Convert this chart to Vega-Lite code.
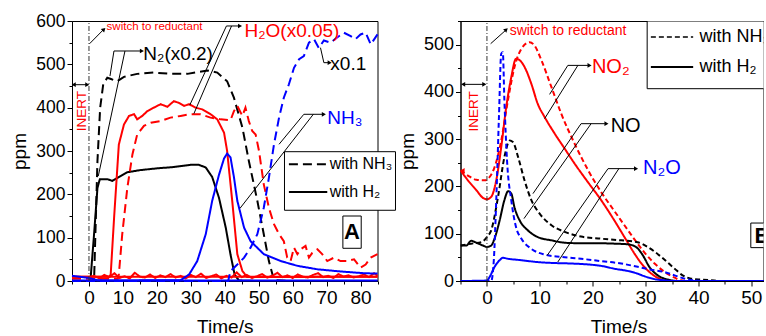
{
 "$schema": "https://vega.github.io/schema/vega-lite/v6.json",
 "padding": {"left": 10, "top": 11, "right": 0, "bottom": 0},
 "bounds": "flush",
 "spacing": 82.5,
 "resolve": {"scale": {"color": "independent", "strokeDash": "independent"}},
 "config": {
  "font": "Liberation Sans",
  "view": {"stroke": "black", "strokeWidth": 1},
  "axis": {"labelFont": "Liberation Sans", "titleFont": "Liberation Sans", "labelColor": "black", "titleColor": "black", "domainColor": "black", "tickColor": "black", "grid": false, "labelFlush": false, "labelOverlap": false, "titleFontWeight": "normal", "labelPadding": 2}
 },
 "datasets": {
  "A": [
   {"s":"N2 NH3","t":-5,"v":0},{"s":"N2 NH3","t":1.5,"v":0},{"s":"N2 NH3","t":2.5,"v":277},{"s":"N2 NH3","t":3.3,"v":400},{"s":"N2 NH3","t":4.2,"v":454},{"s":"N2 NH3","t":5.4,"v":469},{"s":"N2 NH3","t":6.5,"v":466},{"s":"N2 NH3","t":8.3,"v":461},{"s":"N2 NH3","t":10.3,"v":471},{"s":"N2 NH3","t":14.2,"v":478},{"s":"N2 NH3","t":19.1,"v":481},{"s":"N2 NH3","t":24,"v":478},{"s":"N2 NH3","t":29,"v":478},{"s":"N2 NH3","t":32,"v":482},{"s":"N2 NH3","t":34.9,"v":486},{"s":"N2 NH3","t":37.8,"v":481},{"s":"N2 NH3","t":40.7,"v":461},{"s":"N2 NH3","t":42.7,"v":423},{"s":"N2 NH3","t":45.2,"v":354},{"s":"N2 NH3","t":47.1,"v":277},{"s":"N2 NH3","t":49.6,"v":185},{"s":"N2 NH3","t":51.5,"v":108},{"s":"N2 NH3","t":53,"v":46},{"s":"N2 NH3","t":54.5,"v":2},{"s":"N2 NH3","t":60,"v":0},{"s":"N2 NH3","t":85,"v":0},
   {"s":"N2 H2","t":-5,"v":0},{"s":"N2 H2","t":0,"v":0},{"s":"N2 H2","t":0.5,"v":8},{"s":"N2 H2","t":1.5,"v":108},{"s":"N2 H2","t":2.5,"v":215},{"s":"N2 H2","t":3.2,"v":235},{"s":"N2 H2","t":5.4,"v":235},{"s":"N2 H2","t":6.9,"v":231},{"s":"N2 H2","t":9.3,"v":242},{"s":"N2 H2","t":11.3,"v":251},{"s":"N2 H2","t":15.2,"v":256},{"s":"N2 H2","t":20.1,"v":260},{"s":"N2 H2","t":25,"v":263},{"s":"N2 H2","t":29.9,"v":268},{"s":"N2 H2","t":32.4,"v":268},{"s":"N2 H2","t":34.4,"v":262},{"s":"N2 H2","t":36.3,"v":240},{"s":"N2 H2","t":38.3,"v":192},{"s":"N2 H2","t":40.3,"v":123},{"s":"N2 H2","t":41.7,"v":61},{"s":"N2 H2","t":42.9,"v":15},{"s":"N2 H2","t":44.2,"v":1},{"s":"N2 H2","t":50,"v":0},{"s":"N2 H2","t":85,"v":0},
   {"s":"H2O base","t":-5,"v":10},{"s":"H2O base","t":85,"v":10},
   {"s":"H2O noise","t":0,"v":8},{"s":"H2O noise","t":1.5,"v":12},{"s":"H2O noise","t":3,"v":6},{"s":"H2O noise","t":4.5,"v":14},{"s":"H2O noise","t":6,"v":9},{"s":"H2O noise","t":7.5,"v":18},{"s":"H2O noise","t":9,"v":7},{"s":"H2O noise","t":10.5,"v":11},{"s":"H2O noise","t":12,"v":6},{"s":"H2O noise","t":13.5,"v":19},{"s":"H2O noise","t":15,"v":10},{"s":"H2O noise","t":16.5,"v":8},{"s":"H2O noise","t":18,"v":15},{"s":"H2O noise","t":19.5,"v":7},{"s":"H2O noise","t":21,"v":13},{"s":"H2O noise","t":22.5,"v":9},{"s":"H2O noise","t":24,"v":16},{"s":"H2O noise","t":25.5,"v":8},{"s":"H2O noise","t":27,"v":12},{"s":"H2O noise","t":28.5,"v":6},{"s":"H2O noise","t":30,"v":14},{"s":"H2O noise","t":31.5,"v":9},{"s":"H2O noise","t":33,"v":17},{"s":"H2O noise","t":34.5,"v":7},{"s":"H2O noise","t":36,"v":11},{"s":"H2O noise","t":37.5,"v":15},{"s":"H2O noise","t":39,"v":6},{"s":"H2O noise","t":40.5,"v":12},{"s":"H2O noise","t":42,"v":8},{"s":"H2O noise","t":43.5,"v":20},{"s":"H2O noise","t":45,"v":9},{"s":"H2O noise","t":46.5,"v":14},{"s":"H2O noise","t":48,"v":7},{"s":"H2O noise","t":49.5,"v":11},{"s":"H2O noise","t":51,"v":16},{"s":"H2O noise","t":52.5,"v":8},{"s":"H2O noise","t":54,"v":12},{"s":"H2O noise","t":55.5,"v":19},{"s":"H2O noise","t":57,"v":9},{"s":"H2O noise","t":58.5,"v":13},{"s":"H2O noise","t":60,"v":7},{"s":"H2O noise","t":61.5,"v":15},{"s":"H2O noise","t":63,"v":10},{"s":"H2O noise","t":64.5,"v":8},{"s":"H2O noise","t":66,"v":14},{"s":"H2O noise","t":67.5,"v":18},{"s":"H2O noise","t":69,"v":9},{"s":"H2O noise","t":70.5,"v":12},{"s":"H2O noise","t":72,"v":7},{"s":"H2O noise","t":73.5,"v":16},{"s":"H2O noise","t":75,"v":10},{"s":"H2O noise","t":76.5,"v":13},{"s":"H2O noise","t":78,"v":8},{"s":"H2O noise","t":79.5,"v":11},{"s":"H2O noise","t":81,"v":15},{"s":"H2O noise","t":82.5,"v":9},{"s":"H2O noise","t":84,"v":18},{"s":"H2O noise","t":85,"v":12},
   {"s":"H2O H2","t":-5,"v":10},{"s":"H2O H2","t":6,"v":10},{"s":"H2O H2","t":6.4,"v":15},{"s":"H2O H2","t":7.4,"v":146},{"s":"H2O H2","t":8.8,"v":315},{"s":"H2O H2","t":10.3,"v":361},{"s":"H2O H2","t":11.8,"v":381},{"s":"H2O H2","t":13.3,"v":385},{"s":"H2O H2","t":14.2,"v":373},{"s":"H2O H2","t":15.7,"v":381},{"s":"H2O H2","t":17.2,"v":392},{"s":"H2O H2","t":19.1,"v":400},{"s":"H2O H2","t":21.1,"v":408},{"s":"H2O H2","t":23.1,"v":402},{"s":"H2O H2","t":25,"v":415},{"s":"H2O H2","t":26.5,"v":411},{"s":"H2O H2","t":28,"v":404},{"s":"H2O H2","t":29.5,"v":408},{"s":"H2O H2","t":31.4,"v":400},{"s":"H2O H2","t":33.4,"v":396},{"s":"H2O H2","t":35.8,"v":385},{"s":"H2O H2","t":37.8,"v":373},{"s":"H2O H2","t":39.8,"v":342},{"s":"H2O H2","t":40.7,"v":300},{"s":"H2O H2","t":42.2,"v":185},{"s":"H2O H2","t":43.7,"v":62},{"s":"H2O H2","t":45.2,"v":23},{"s":"H2O H2","t":46.6,"v":9},{"s":"H2O H2","t":85,"v":10},
   {"s":"H2O NH3","t":-5,"v":5},{"s":"H2O NH3","t":8.5,"v":5},{"s":"H2O NH3","t":8.8,"v":15},{"s":"H2O NH3","t":9.8,"v":108},{"s":"H2O NH3","t":11.3,"v":215},{"s":"H2O NH3","t":12.8,"v":292},{"s":"H2O NH3","t":14.2,"v":338},{"s":"H2O NH3","t":16.2,"v":358},{"s":"H2O NH3","t":18.2,"v":365},{"s":"H2O NH3","t":21.1,"v":369},{"s":"H2O NH3","t":24,"v":377},{"s":"H2O NH3","t":27,"v":381},{"s":"H2O NH3","t":29.9,"v":385},{"s":"H2O NH3","t":32.9,"v":385},{"s":"H2O NH3","t":35.8,"v":377},{"s":"H2O NH3","t":38.8,"v":373},{"s":"H2O NH3","t":41.7,"v":371},{"s":"H2O NH3","t":42.7,"v":392},{"s":"H2O NH3","t":43.7,"v":404},{"s":"H2O NH3","t":45.2,"v":381},{"s":"H2O NH3","t":46.1,"v":400},{"s":"H2O NH3","t":47.1,"v":369},{"s":"H2O NH3","t":48.1,"v":346},{"s":"H2O NH3","t":49.1,"v":338},{"s":"H2O NH3","t":50.1,"v":300},{"s":"H2O NH3","t":51.5,"v":223},{"s":"H2O NH3","t":53,"v":169},{"s":"H2O NH3","t":54.5,"v":131},{"s":"H2O NH3","t":56,"v":108},{"s":"H2O NH3","t":57.4,"v":92},{"s":"H2O NH3","t":58.4,"v":54},{"s":"H2O NH3","t":59.4,"v":46},{"s":"H2O NH3","t":60.4,"v":77},{"s":"H2O NH3","t":61.4,"v":62},{"s":"H2O NH3","t":62.3,"v":73},{"s":"H2O NH3","t":63.8,"v":81},{"s":"H2O NH3","t":64.8,"v":54},{"s":"H2O NH3","t":65.8,"v":65},{"s":"H2O NH3","t":67.3,"v":73},{"s":"H2O NH3","t":68.7,"v":62},{"s":"H2O NH3","t":70.2,"v":46},{"s":"H2O NH3","t":72.2,"v":54},{"s":"H2O NH3","t":74.1,"v":46},{"s":"H2O NH3","t":76.1,"v":46},{"s":"H2O NH3","t":78.1,"v":50},{"s":"H2O NH3","t":80,"v":31},{"s":"H2O NH3","t":81.5,"v":38},{"s":"H2O NH3","t":83,"v":54},{"s":"H2O NH3","t":85,"v":62},
   {"s":"NH3 base","t":-5,"v":1},{"s":"NH3 base","t":85,"v":1},
   {"s":"NH3 H2","t":-5,"v":12},{"s":"NH3 H2","t":-2,"v":9},{"s":"NH3 H2","t":0,"v":7},{"s":"NH3 H2","t":2.5,"v":2},{"s":"NH3 H2","t":5,"v":1},{"s":"NH3 H2","t":27,"v":2},{"s":"NH3 H2","t":29.5,"v":15},{"s":"NH3 H2","t":31.9,"v":46},{"s":"NH3 H2","t":34.4,"v":108},{"s":"NH3 H2","t":36.3,"v":185},{"s":"NH3 H2","t":38.3,"v":245},{"s":"NH3 H2","t":39.8,"v":283},{"s":"NH3 H2","t":40.7,"v":294},{"s":"NH3 H2","t":41.7,"v":285},{"s":"NH3 H2","t":42.7,"v":240},{"s":"NH3 H2","t":43.7,"v":185},{"s":"NH3 H2","t":45.7,"v":123},{"s":"NH3 H2","t":47.6,"v":92},{"s":"NH3 H2","t":51.5,"v":62},{"s":"NH3 H2","t":56.5,"v":46},{"s":"NH3 H2","t":61.4,"v":35},{"s":"NH3 H2","t":67.3,"v":27},{"s":"NH3 H2","t":74.1,"v":22},{"s":"NH3 H2","t":81,"v":18},{"s":"NH3 H2","t":85,"v":17},
   {"s":"NH3 NH3","t":-5,"v":0},{"s":"NH3 NH3","t":41,"v":0},{"s":"NH3 NH3","t":41.7,"v":23},{"s":"NH3 NH3","t":43.7,"v":38},{"s":"NH3 NH3","t":45.7,"v":54},{"s":"NH3 NH3","t":47.6,"v":77},{"s":"NH3 NH3","t":49.6,"v":108},{"s":"NH3 NH3","t":51.5,"v":169},{"s":"NH3 NH3","t":53,"v":238},{"s":"NH3 NH3","t":54.5,"v":315},{"s":"NH3 NH3","t":56,"v":377},{"s":"NH3 NH3","t":57.4,"v":423},{"s":"NH3 NH3","t":58.9,"v":454},{"s":"NH3 NH3","t":60.4,"v":492},{"s":"NH3 NH3","t":61.9,"v":512},{"s":"NH3 NH3","t":63.3,"v":519},{"s":"NH3 NH3","t":64.8,"v":550},{"s":"NH3 NH3","t":66.3,"v":558},{"s":"NH3 NH3","t":67.7,"v":538},{"s":"NH3 NH3","t":69.2,"v":555},{"s":"NH3 NH3","t":71.2,"v":550},{"s":"NH3 NH3","t":73.1,"v":562},{"s":"NH3 NH3","t":75.1,"v":573},{"s":"NH3 NH3","t":77.1,"v":565},{"s":"NH3 NH3","t":78.5,"v":558},{"s":"NH3 NH3","t":80,"v":569},{"s":"NH3 NH3","t":81.5,"v":573},{"s":"NH3 NH3","t":83,"v":546},{"s":"NH3 NH3","t":85,"v":569}
  ],
  "B": [
   {"s":"NO2 H2","t":-5,"v":234},{"s":"NO2 H2","t":-3.6,"v":213},{"s":"NO2 H2","t":-2,"v":192},{"s":"NO2 H2","t":-0.76,"v":176},{"s":"NO2 H2","t":0,"v":173},{"s":"NO2 H2","t":0.8,"v":178},{"s":"NO2 H2","t":1.76,"v":213},{"s":"NO2 H2","t":2.7,"v":283},{"s":"NO2 H2","t":3.65,"v":368},{"s":"NO2 H2","t":4.6,"v":431},{"s":"NO2 H2","t":5.5,"v":470},{"s":"NO2 H2","t":6.2,"v":467},{"s":"NO2 H2","t":7.1,"v":453},{"s":"NO2 H2","t":8.4,"v":417},{"s":"NO2 H2","t":9.6,"v":375},{"s":"NO2 H2","t":10.9,"v":347},{"s":"NO2 H2","t":12.8,"v":312},{"s":"NO2 H2","t":14.7,"v":280},{"s":"NO2 H2","t":16.6,"v":248},{"s":"NO2 H2","t":19.1,"v":209},{"s":"NO2 H2","t":21.6,"v":171},{"s":"NO2 H2","t":24.1,"v":128},{"s":"NO2 H2","t":26,"v":93},{"s":"NO2 H2","t":27.9,"v":58},{"s":"NO2 H2","t":29.5,"v":33},{"s":"NO2 H2","t":31.1,"v":15.5},{"s":"NO2 H2","t":32.6,"v":5},{"s":"NO2 H2","t":34.2,"v":0},{"s":"NO2 H2","t":55,"v":0},
   {"s":"NO2 NH3","t":-5,"v":234},{"s":"NO2 NH3","t":-3.6,"v":223},{"s":"NO2 NH3","t":-2,"v":214},{"s":"NO2 NH3","t":-0.4,"v":213},{"s":"NO2 NH3","t":0.5,"v":220},{"s":"NO2 NH3","t":1.45,"v":241},{"s":"NO2 NH3","t":2.7,"v":297},{"s":"NO2 NH3","t":3.97,"v":382},{"s":"NO2 NH3","t":5.2,"v":452},{"s":"NO2 NH3","t":6.5,"v":491},{"s":"NO2 NH3","t":8.07,"v":505},{"s":"NO2 NH3","t":9,"v":498},{"s":"NO2 NH3","t":10.3,"v":467},{"s":"NO2 NH3","t":12.2,"v":410},{"s":"NO2 NH3","t":14.05,"v":354},{"s":"NO2 NH3","t":16.6,"v":290},{"s":"NO2 NH3","t":19.1,"v":235},{"s":"NO2 NH3","t":21.6,"v":188},{"s":"NO2 NH3","t":24.1,"v":148},{"s":"NO2 NH3","t":26,"v":118},{"s":"NO2 NH3","t":27.9,"v":88},{"s":"NO2 NH3","t":29.8,"v":60},{"s":"NO2 NH3","t":31.7,"v":37},{"s":"NO2 NH3","t":33.6,"v":19},{"s":"NO2 NH3","t":35.5,"v":7},{"s":"NO2 NH3","t":36.7,"v":1.4},{"s":"NO2 NH3","t":38,"v":0},{"s":"NO2 NH3","t":55,"v":0},
   {"s":"NO H2","t":-5,"v":75},{"s":"NO H2","t":-3.9,"v":75},{"s":"NO H2","t":-3,"v":85},{"s":"NO H2","t":-2,"v":81},{"s":"NO H2","t":-0.76,"v":75},{"s":"NO H2","t":0,"v":72},{"s":"NO H2","t":0.8,"v":75},{"s":"NO H2","t":1.45,"v":90},{"s":"NO H2","t":2.4,"v":128},{"s":"NO H2","t":3.3,"v":171},{"s":"NO H2","t":4,"v":190},{"s":"NO H2","t":4.6,"v":185},{"s":"NO H2","t":5.2,"v":156},{"s":"NO H2","t":6.2,"v":128},{"s":"NO H2","t":7.75,"v":107},{"s":"NO H2","t":9.6,"v":93},{"s":"NO H2","t":12.2,"v":86},{"s":"NO H2","t":14.7,"v":81},{"s":"NO H2","t":17.2,"v":80},{"s":"NO H2","t":20.4,"v":80},{"s":"NO H2","t":24.1,"v":79},{"s":"NO H2","t":26.7,"v":77.5},{"s":"NO H2","t":28.2,"v":72},{"s":"NO H2","t":29.5,"v":54},{"s":"NO H2","t":30.7,"v":30},{"s":"NO H2","t":32.3,"v":12},{"s":"NO H2","t":34.2,"v":3},{"s":"NO H2","t":36.1,"v":0},{"s":"NO H2","t":55,"v":0},
   {"s":"NO NH3","t":-5,"v":75},{"s":"NO NH3","t":-3,"v":79},{"s":"NO NH3","t":-1.07,"v":82},{"s":"NO NH3","t":0,"v":93},{"s":"NO NH3","t":0.8,"v":107},{"s":"NO NH3","t":2.1,"v":178},{"s":"NO NH3","t":3.3,"v":262},{"s":"NO NH3","t":4.3,"v":297},{"s":"NO NH3","t":4.9,"v":294},{"s":"NO NH3","t":5.9,"v":262},{"s":"NO NH3","t":7.1,"v":213},{"s":"NO NH3","t":8.4,"v":171},{"s":"NO NH3","t":10,"v":142},{"s":"NO NH3","t":12.2,"v":118},{"s":"NO NH3","t":14.7,"v":104},{"s":"NO NH3","t":17.8,"v":94},{"s":"NO NH3","t":21.6,"v":89.5},{"s":"NO NH3","t":25.4,"v":86},{"s":"NO NH3","t":28.5,"v":82},{"s":"NO NH3","t":30.4,"v":72},{"s":"NO NH3","t":32.96,"v":51},{"s":"NO NH3","t":35.5,"v":26},{"s":"NO NH3","t":37,"v":12},{"s":"NO NH3","t":38.6,"v":5},{"s":"NO NH3","t":40.5,"v":3},{"s":"NO NH3","t":42.4,"v":1.4},{"s":"NO NH3","t":44.3,"v":0},{"s":"NO NH3","t":55,"v":0},
   {"s":"N2O H2","t":-5,"v":0},{"s":"N2O H2","t":0,"v":1},{"s":"N2O H2","t":0.5,"v":8.5},{"s":"N2O H2","t":1.45,"v":30},{"s":"N2O H2","t":2.4,"v":44},{"s":"N2O H2","t":3,"v":49},{"s":"N2O H2","t":4,"v":47},{"s":"N2O H2","t":6.5,"v":44},{"s":"N2O H2","t":9.6,"v":40},{"s":"N2O H2","t":12.8,"v":38},{"s":"N2O H2","t":15.9,"v":37},{"s":"N2O H2","t":19.1,"v":35},{"s":"N2O H2","t":21.6,"v":32},{"s":"N2O H2","t":24.1,"v":26},{"s":"N2O H2","t":26.7,"v":21},{"s":"N2O H2","t":28.5,"v":15.5},{"s":"N2O H2","t":29.8,"v":10},{"s":"N2O H2","t":31.7,"v":4},{"s":"N2O H2","t":33.6,"v":1.4},{"s":"N2O H2","t":35.5,"v":0},{"s":"N2O H2","t":55,"v":0},
   {"s":"N2O NH3","t":-5,"v":0},{"s":"N2O NH3","t":0.8,"v":0},{"s":"N2O NH3","t":1.3,"v":44},{"s":"N2O NH3","t":1.76,"v":171},{"s":"N2O NH3","t":2.27,"v":347},{"s":"N2O NH3","t":2.7,"v":481},{"s":"N2O NH3","t":3,"v":484},{"s":"N2O NH3","t":3.3,"v":382},{"s":"N2O NH3","t":3.8,"v":255},{"s":"N2O NH3","t":4.6,"v":171},{"s":"N2O NH3","t":5.5,"v":114},{"s":"N2O NH3","t":6.5,"v":90},{"s":"N2O NH3","t":8.4,"v":68},{"s":"N2O NH3","t":10.9,"v":56},{"s":"N2O NH3","t":14.05,"v":51},{"s":"N2O NH3","t":17.8,"v":47},{"s":"N2O NH3","t":21.6,"v":42},{"s":"N2O NH3","t":25.4,"v":37},{"s":"N2O NH3","t":28.5,"v":30},{"s":"N2O NH3","t":31,"v":24},{"s":"N2O NH3","t":33.6,"v":19},{"s":"N2O NH3","t":35.5,"v":12},{"s":"N2O NH3","t":37.4,"v":5},{"s":"N2O NH3","t":39.3,"v":1.4},{"s":"N2O NH3","t":41,"v":0},{"s":"N2O NH3","t":55,"v":0}
  ]
 },
 "hconcat": [
  {
   "width": 305.5, "height": 260,
   "layer": [
    {
     "data": {"name": "A"},
     "mark": {"type": "line", "strokeWidth": 2},
     "encoding": {
      "x": {"field": "t", "type": "quantitative", "scale": {"domain": [-5, 85], "nice": false, "zero": false},
            "axis": {"title": "Time/s", "format": "d", "values": [-5,0,5,10,15,20,25,30,35,40,45,50,55,60,65,70,75,80,85], "tickCount": 100, "labelExpr": "datum.value % 10 === 0 ? datum.label : ''", "labelOverlap": false, "labelFlush": false, "tickSize": {"condition": {"test": "datum.value % 10 === 0", "value": 5}, "value": 3}, "labelFontSize": 19, "titleFontSize": 19, "titlePadding": 10}},
      "y": {"field": "v", "type": "quantitative", "scale": {"domain": [0, 600], "nice": false},
            "axis": {"title": "ppm", "format": "d", "values": [0,50,100,150,200,250,300,350,400,450,500,550,600], "tickCount": 100, "labelExpr": "datum.value % 100 === 0 ? datum.label : ''", "labelOverlap": false, "tickSize": {"condition": {"test": "datum.value % 100 === 0", "value": 5}, "value": 3}, "labelFontSize": 17.5, "titleFontSize": 19, "titlePadding": 6}},
      "color": {"field": "s", "type": "nominal", "legend": null, "scale": {"domain": ["N2 NH3","N2 H2","H2O base","H2O noise","H2O H2","H2O NH3","NH3 base","NH3 H2","NH3 NH3"], "range": ["black","black","#ff0000","#ff0000","#ff0000","#ff0000","#0000ff","#0000ff","#0000ff"]}},
      "strokeDash": {"field": "s", "type": "nominal", "legend": null, "scale": {"domain": ["N2 NH3","N2 H2","H2O base","H2O noise","H2O H2","H2O NH3","NH3 base","NH3 H2","NH3 NH3"], "range": [[9,5],[1,0],[1,0],[1,0],[1,0],[9,5],[1,0],[1,0],[9,5]]}}
     }
    },
    {
     "data": {"values": [{"x": 0, "y": 0, "y2": 600}]},
     "mark": {"type": "rule", "color": "#333333", "strokeWidth": 1, "strokeDash": [5,2,1,2]},
     "encoding": {"x": {"field": "x", "type": "quantitative"}, "y": {"field": "y", "type": "quantitative"}, "y2": {"field": "y2"}}
    },
    {
     "data": {"values": [
      {"x":7.36,"y":530.8,"x2":15.3,"y2":530.8},{"x":7.36,"y":530.8,"x2":6.19,"y2":473},{"x":10.6,"y":530.8,"x2":2.74,"y2":242},
      {"x":40.5,"y":588.5,"x2":44.2,"y2":588.5},{"x":40.5,"y":588.5,"x2":29.7,"y2":406},{"x":42,"y":588.5,"x2":30.9,"y2":386},
      {"x":63.3,"y":384.7,"x2":68.9,"y2":384.7},{"x":63.3,"y":384.7,"x2":56,"y2":315.5},{"x":66.1,"y":384.7,"x2":44.5,"y2":167.8},
      {"x":68.2,"y":538.4,"x2":69.2,"y2":503.8},{"x":69.2,"y":503.8,"x2":70.5,"y2":503.8},
      {"x":-4.6,"y":453,"x2":-0.4,"y2":453},
      {"x":0.18,"y":547.6,"x2":4.2,"y2":579.5}
     ]},
     "mark": {"type": "rule", "color": "black", "strokeWidth": 1},
     "encoding": {"x": {"field": "x", "type": "quantitative"}, "y": {"field": "y", "type": "quantitative"}, "x2": {"field": "x2"}, "y2": {"field": "y2"}}
    },
    {
     "data": {"values": [{"x":15.6,"y":530.8},{"x":44.5,"y":588.5},{"x":69.2,"y":384.7},{"x":70.9,"y":503.8},{"x":-0.5,"y":453}]},
     "mark": {"type": "point", "shape": "triangle-right", "filled": true, "color": "black", "size": 22, "opacity": 1},
     "encoding": {"x": {"field": "x", "type": "quantitative"}, "y": {"field": "y", "type": "quantitative"}}
    },
    {
     "data": {"values": [{"x":-4.5,"y":453}]},
     "mark": {"type": "point", "shape": "triangle-left", "filled": true, "color": "black", "size": 22, "opacity": 1},
     "encoding": {"x": {"field": "x", "type": "quantitative"}, "y": {"field": "y", "type": "quantitative"}}
    },
    {
     "data": {"values": [{"x":4.4,"y":580.8}]},
     "mark": {"type": "point", "shape": "triangle-up", "angle": 45, "filled": true, "color": "black", "size": 22, "opacity": 1},
     "encoding": {"x": {"field": "x", "type": "quantitative"}, "y": {"field": "y", "type": "quantitative"}}
    },
    {
     "data": {"values": [{"x":57.6,"x2":90.3,"y":163.2,"y2":298.4},{"x":74.8,"x2":80.2,"y":75.5,"y2":150}]},
     "mark": {"type": "rect", "fill": "white", "stroke": "black", "strokeWidth": 1},
     "encoding": {"x": {"field": "x", "type": "quantitative"}, "x2": {"field": "x2"}, "y": {"field": "y", "type": "quantitative"}, "y2": {"field": "y2"}}
    },
    {
     "data": {"values": [{"x":58.9,"x2":70.2,"y":269.3}]},
     "mark": {"type": "rule", "color": "black", "strokeWidth": 2, "strokeDash": [9,5]},
     "encoding": {"x": {"field": "x", "type": "quantitative"}, "x2": {"field": "x2"}, "y": {"field": "y", "type": "quantitative"}}
    },
    {
     "data": {"values": [{"x":58.9,"x2":70.2,"y":205.4}]},
     "mark": {"type": "rule", "color": "black", "strokeWidth": 2},
     "encoding": {"x": {"field": "x", "type": "quantitative"}, "x2": {"field": "x2"}, "y": {"field": "y", "type": "quantitative"}}
    },
    {
     "data": {"values": [{"x":70.9,"y":269.3,"label":"with NH₃"},{"x":70.9,"y":205.4,"label":"with H₂"}]},
     "mark": {"type": "text", "align": "left", "baseline": "middle", "fontSize": 16, "color": "black"},
     "encoding": {"x": {"field": "x", "type": "quantitative"}, "y": {"field": "y", "type": "quantitative"}, "text": {"field": "label"}}
    },
    {
     "data": {"values": [{"x":77.5,"y":112,"label":"A"}]},
     "mark": {"type": "text", "align": "center", "baseline": "middle", "fontSize": 22, "fontWeight": "bold", "color": "black"},
     "encoding": {"x": {"field": "x", "type": "quantitative"}, "y": {"field": "y", "type": "quantitative"}, "text": {"field": "label"}}
    },
    {
     "data": {"values": [{"x":16,"y":523,"label":"N₂(x0.2)"},{"x":71.1,"y":500,"label":"x0.1"}]},
     "mark": {"type": "text", "align": "left", "baseline": "middle", "fontSize": 19, "color": "black"},
     "encoding": {"x": {"field": "x", "type": "quantitative"}, "y": {"field": "y", "type": "quantitative"}, "text": {"field": "label"}}
    },
    {
     "data": {"values": [{"x":45.8,"y":578,"label":"H₂O(x0.05)"}]},
     "mark": {"type": "text", "align": "left", "baseline": "middle", "fontSize": 19, "color": "#ff0000"},
     "encoding": {"x": {"field": "x", "type": "quantitative"}, "y": {"field": "y", "type": "quantitative"}, "text": {"field": "label"}}
    },
    {
     "data": {"values": [{"x":70.2,"y":377,"label":"NH₃"}]},
     "mark": {"type": "text", "align": "left", "baseline": "middle", "fontSize": 19, "color": "#0000ff"},
     "encoding": {"x": {"field": "x", "type": "quantitative"}, "y": {"field": "y", "type": "quantitative"}, "text": {"field": "label"}}
    },
    {
     "data": {"values": [{"x":5.2,"y":587,"label":"switch to reductant"}]},
     "mark": {"type": "text", "align": "left", "baseline": "middle", "fontSize": 11.5, "color": "#ff0000"},
     "encoding": {"x": {"field": "x", "type": "quantitative"}, "y": {"field": "y", "type": "quantitative"}, "text": {"field": "label"}}
    },
    {
     "data": {"values": [{"x":-2,"y":392,"label":"INERT"}]},
     "mark": {"type": "text", "align": "center", "baseline": "middle", "fontSize": 13.5, "angle": 270, "color": "#ff0000"},
     "encoding": {"x": {"field": "x", "type": "quantitative"}, "y": {"field": "y", "type": "quantitative"}, "text": {"field": "label"}}
    }
   ]
  },
  {
   "width": 303, "height": 260,
   "layer": [
    {
     "data": {"name": "B"},
     "mark": {"type": "line", "strokeWidth": 2, "interpolate": "monotone", "clip": true},
     "encoding": {
      "x": {"field": "t", "type": "quantitative", "scale": {"domain": [-5, 52.3], "nice": false, "zero": false},
            "axis": {"title": "Time/s", "format": "d", "titleX": 158, "values": [-5,0,5,10,15,20,25,30,35,40,45,50], "tickCount": 100, "labelExpr": "datum.value % 10 === 0 ? datum.label : ''", "labelOverlap": false, "labelFlush": false, "tickSize": {"condition": {"test": "datum.value % 10 === 0", "value": 5}, "value": 3}, "labelFontSize": 19, "titleFontSize": 19, "titlePadding": 10}},
      "y": {"field": "v", "type": "quantitative", "scale": {"domain": [0, 550], "nice": false},
            "axis": {"title": "ppm", "format": "d", "values": [0,50,100,150,200,250,300,350,400,450,500,550], "tickCount": 100, "labelExpr": "datum.value % 100 === 0 ? datum.label : ''", "labelOverlap": false, "tickSize": {"condition": {"test": "datum.value % 100 === 0", "value": 5}, "value": 3}, "labelFontSize": 18, "titleFontSize": 19, "titlePadding": 6}},
      "color": {"field": "s", "type": "nominal", "legend": null, "scale": {"domain": ["NO2 H2","NO2 NH3","NO H2","NO NH3","N2O H2","N2O NH3"], "range": ["#ff0000","#ff0000","black","black","#0000ff","#0000ff"]}},
      "strokeDash": {"field": "s", "type": "nominal", "legend": null, "scale": {"domain": ["NO2 H2","NO2 NH3","NO H2","NO NH3","N2O H2","N2O NH3"], "range": [[1,0],[5,3],[1,0],[5,3],[1,0],[5,3]]}}
     }
    },
    {
     "data": {"values": [{"x": 0, "y": 0, "y2": 550}]},
     "mark": {"type": "rule", "color": "#333333", "strokeWidth": 1, "strokeDash": [5,2,1,2]},
     "encoding": {"x": {"field": "x", "type": "quantitative"}, "y": {"field": "y", "type": "quantitative"}, "y2": {"field": "y2"}}
    },
    {
     "data": {"values": [
      {"x":15.3,"y":456.1,"x2":19.1,"y2":456.1},{"x":15.3,"y":456.1,"x2":11.85,"y2":394.8},{"x":17.2,"y":456.1,"x2":10.9,"y2":343.4},
      {"x":17.8,"y":332.8,"x2":22.3,"y2":332.8},{"x":17.8,"y":332.8,"x2":8.7,"y2":184.8},{"x":19.7,"y":332.8,"x2":7.0,"y2":132},
      {"x":22.9,"y":237.7,"x2":27.9,"y2":237.7},{"x":22.9,"y":237.7,"x2":11.4,"y2":54.3},{"x":24.95,"y":237.7,"x2":13.4,"y2":40.2},
      {"x":-4.6,"y":416,"x2":-0.4,"y2":416},
      {"x":0.7,"y":502,"x2":3.5,"y2":530}
     ]},
     "mark": {"type": "rule", "color": "black", "strokeWidth": 1},
     "encoding": {"x": {"field": "x", "type": "quantitative"}, "y": {"field": "y", "type": "quantitative"}, "x2": {"field": "x2"}, "y2": {"field": "y2"}}
    },
    {
     "data": {"values": [{"x":19.4,"y":456.1},{"x":22.6,"y":332.8},{"x":28.2,"y":237.7},{"x":-0.5,"y":416}]},
     "mark": {"type": "point", "shape": "triangle-right", "filled": true, "color": "black", "size": 22, "opacity": 1},
     "encoding": {"x": {"field": "x", "type": "quantitative"}, "y": {"field": "y", "type": "quantitative"}}
    },
    {
     "data": {"values": [{"x":-4.5,"y":416}]},
     "mark": {"type": "point", "shape": "triangle-left", "filled": true, "color": "black", "size": 22, "opacity": 1},
     "encoding": {"x": {"field": "x", "type": "quantitative"}, "y": {"field": "y", "type": "quantitative"}}
    },
    {
     "data": {"values": [{"x":-4.6,"y":234}]},
     "mark": {"type": "point", "shape": "triangle-left", "filled": true, "color": "#ff0000", "size": 22, "opacity": 1},
     "encoding": {"x": {"field": "x", "type": "quantitative"}, "y": {"field": "y", "type": "quantitative"}}
    },
    {
     "data": {"values": [{"x":3.65,"y":531.6}]},
     "mark": {"type": "point", "shape": "triangle-up", "angle": 47, "filled": true, "color": "black", "size": 22, "opacity": 1},
     "encoding": {"x": {"field": "x", "type": "quantitative"}, "y": {"field": "y", "type": "quantitative"}}
    },
    {
     "data": {"values": [{"x":30.3,"x2":56,"y":406.8,"y2":550},{"x":49.9,"x2":56,"y":70.6,"y2":122.6}]},
     "mark": {"type": "rect", "fill": "white", "stroke": "black", "strokeWidth": 1, "clip": true},
     "encoding": {"x": {"field": "x", "type": "quantitative"}, "x2": {"field": "x2"}, "y": {"field": "y", "type": "quantitative"}, "y2": {"field": "y2"}}
    },
    {
     "data": {"values": [{"x":31,"x2":39,"y":516}]},
     "mark": {"type": "rule", "color": "black", "strokeWidth": 1.5, "strokeDash": [5,3]},
     "encoding": {"x": {"field": "x", "type": "quantitative"}, "x2": {"field": "x2"}, "y": {"field": "y", "type": "quantitative"}}
    },
    {
     "data": {"values": [{"x":31,"x2":39,"y":452.5}]},
     "mark": {"type": "rule", "color": "black", "strokeWidth": 2},
     "encoding": {"x": {"field": "x", "type": "quantitative"}, "x2": {"field": "x2"}, "y": {"field": "y", "type": "quantitative"}}
    },
    {
     "data": {"values": [{"x":40.2,"y":516,"label":"with NH₃"},{"x":40.2,"y":452.5,"label":"with H₂"}]},
     "mark": {"type": "text", "align": "left", "baseline": "middle", "fontSize": 18, "color": "black", "clip": true},
     "encoding": {"x": {"field": "x", "type": "quantitative"}, "y": {"field": "y", "type": "quantitative"}, "text": {"field": "label"}}
    },
    {
     "data": {"values": [{"x":50.6,"y":96,"label":"B"}]},
     "mark": {"type": "text", "align": "left", "baseline": "middle", "fontSize": 22, "fontWeight": "bold", "color": "black", "clip": true},
     "encoding": {"x": {"field": "x", "type": "quantitative"}, "y": {"field": "y", "type": "quantitative"}, "text": {"field": "label"}}
    },
    {
     "data": {"values": [{"x":19.85,"y":452,"label":"NO₂"}]},
     "mark": {"type": "text", "align": "left", "baseline": "middle", "fontSize": 20, "color": "#ff0000"},
     "encoding": {"x": {"field": "x", "type": "quantitative"}, "y": {"field": "y", "type": "quantitative"}, "text": {"field": "label"}}
    },
    {
     "data": {"values": [{"x":23.4,"y":327,"label":"NO"}]},
     "mark": {"type": "text", "align": "left", "baseline": "middle", "fontSize": 20, "color": "black"},
     "encoding": {"x": {"field": "x", "type": "quantitative"}, "y": {"field": "y", "type": "quantitative"}, "text": {"field": "label"}}
    },
    {
     "data": {"values": [{"x":29.5,"y":239.6,"label":"N₂O"}]},
     "mark": {"type": "text", "align": "left", "baseline": "middle", "fontSize": 20, "color": "#0000ff"},
     "encoding": {"x": {"field": "x", "type": "quantitative"}, "y": {"field": "y", "type": "quantitative"}, "text": {"field": "label"}}
    },
    {
     "data": {"values": [{"x":4.29,"y":528.7,"label":"switch to reductant"}]},
     "mark": {"type": "text", "align": "left", "baseline": "middle", "fontSize": 14, "color": "#ff0000"},
     "encoding": {"x": {"field": "x", "type": "quantitative"}, "y": {"field": "y", "type": "quantitative"}, "text": {"field": "label"}}
    },
    {
     "data": {"values": [{"x":-2.5,"y":359,"label":"INERT"}]},
     "mark": {"type": "text", "align": "center", "baseline": "middle", "fontSize": 13.5, "angle": 270, "color": "#ff0000"},
     "encoding": {"x": {"field": "x", "type": "quantitative"}, "y": {"field": "y", "type": "quantitative"}, "text": {"field": "label"}}
    }
   ]
  }
 ]
}
